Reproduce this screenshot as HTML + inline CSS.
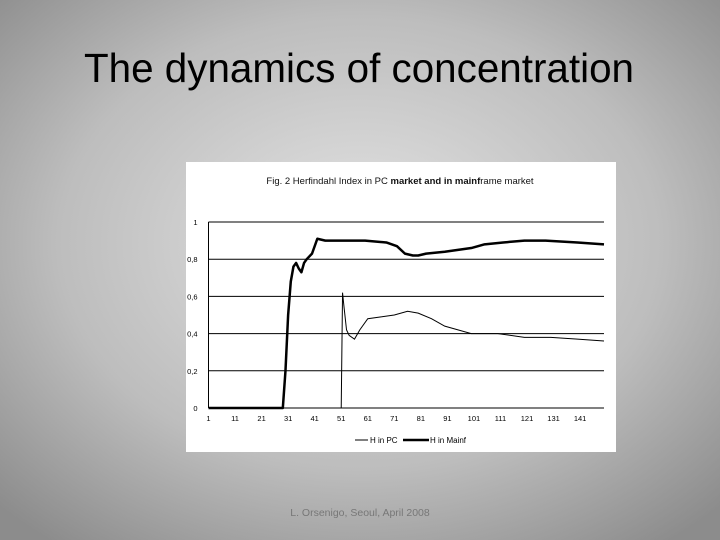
<!DOCTYPE html>
<html><head><meta charset="utf-8"><style>
html,body{margin:0;padding:0;width:720px;height:540px;overflow:hidden}
svg text{font-family:"Liberation Sans",sans-serif}
</style></head><body>
<svg width="720" height="540" xmlns="http://www.w3.org/2000/svg">
<defs>
<radialGradient id="bg" cx="50%" cy="45%" r="70%">
<stop offset="0" stop-color="#e4e4e4"/><stop offset="0.6" stop-color="#bdbdbd"/><stop offset="1" stop-color="#8c8c8c"/>
</radialGradient>
</defs>
<rect width="720" height="540" fill="url(#bg)"/>
<text x="84" y="82" font-size="41" fill="#000" textLength="550" lengthAdjust="spacingAndGlyphs">The dynamics of concentration</text>
<rect x="186" y="162" width="430" height="290" fill="#fff"/>
<text x="400" y="184" font-size="9.5" text-anchor="middle" fill="#111">Fig. 2 Herfindahl Index in PC <tspan font-weight="bold">market and in mainf</tspan>rame market</text>
<g id="grid"></g>
<g id="axes"></g>
<g id="series"></g>
<g>
<line x1="355" y1="440" x2="368" y2="440" stroke="#000" stroke-width="1"/>
<text x="370" y="443" font-size="8">H in PC</text>
<line x1="403" y1="440" x2="429" y2="440" stroke="#000" stroke-width="2.5"/>
<text x="430" y="443" font-size="8">H in Mainf</text>
</g>
<text x="360" y="516" font-size="10.5" text-anchor="middle" fill="#777">L. Orsenigo, Seoul, April 2008</text>
</svg>
<script>
const yTicks=[0,0.2,0.4,0.6,0.8,1];
const yTickLabels=["0","0,2","0,4","0,6","0,8","1"];
const xTicks=[1,11,21,31,41,51,61,71,81,91,101,111,121,131,141];
const mainfX=[1,29,30,31,32,33,34,35,36,37,38,40,42,45,50,60,68,72,75,78,80,83,90,95,100,105,112,120,128,140,150];
const mainfY=[0,0,0.2,0.5,0.68,0.76,0.78,0.75,0.73,0.78,0.80,0.83,0.91,0.90,0.90,0.90,0.89,0.87,0.83,0.82,0.82,0.83,0.84,0.85,0.86,0.88,0.89,0.90,0.90,0.89,0.88];
const pcX=[51,51.5,52,53,54,56,58,61,66,71,76,80,85,90,95,100,110,120,130,140,150];
const pcY=[0,0.62,0.55,0.42,0.39,0.37,0.42,0.48,0.49,0.50,0.52,0.51,0.48,0.44,0.42,0.40,0.40,0.38,0.38,0.37,0.36];
const NS="http://www.w3.org/2000/svg";
const L=208.5,R=604,T=222,B=408;
const xs=v=>L+(v-1)*(R-L)/149;
const ys=v=>B-v*(B-T);
function mk(tag,attrs,parent){const e=document.createElementNS(NS,tag);for(const k in attrs)e.setAttribute(k,attrs[k]);document.getElementById(parent).appendChild(e);return e;}
yTicks.forEach((v,i)=>{
 const g=mk('line',{x1:L,x2:R,y1:ys(v),y2:ys(v),stroke:'#000','stroke-width':1},'grid');
 
 
 const t=mk('text',{x:L-11,y:ys(v)+3,'font-size':7.5,'text-anchor':'end'},'axes');
 t.textContent=yTickLabels[i];
 
 
});
const ax=mk('line',{x1:L,x2:L,y1:T,y2:B,stroke:'#000'},'axes');


xTicks.forEach(v=>{
 const t=mk('text',{x:xs(v),y:B+13,'font-size':7.5,'text-anchor':'middle'},'axes');
 t.textContent=String(v);
 
 
});
const pm=mk('polyline',{points:mainfX.map((x,i)=>xs(x)+','+ys(mainfY[i])).join(' '),fill:'none',stroke:'#000','stroke-width':2.5,'stroke-linejoin':'round'},'series');


const pp=mk('polyline',{points:pcX.map((x,i)=>xs(x)+','+ys(pcY[i])).join(' '),fill:'none',stroke:'#000','stroke-width':1},'series');


</script>
</body></html>
